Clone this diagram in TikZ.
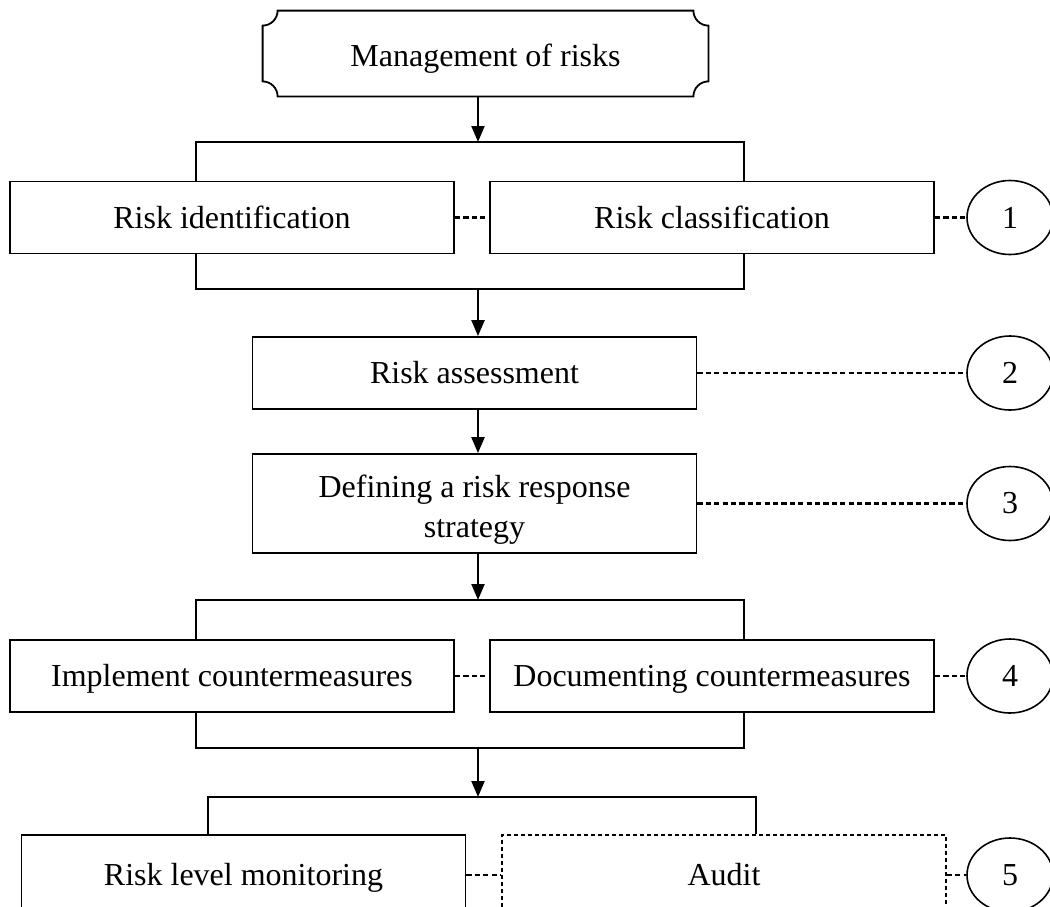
\documentclass[tikz,border=0pt]{standalone}
\usepackage{fontspec}
\setmainfont{Liberation Serif}
\usetikzlibrary{arrows.meta,positioning,calc,shapes.geometric}

\begin{document}
\begin{tikzpicture}[x=0.5pt,y=0.5pt,
    txt/.style={font=\fontsize{16}{20}\selectfont,align=center,inner sep=0pt},
    box/.style={txt,draw,line width=0.9pt,minimum width=222pt,minimum height=36pt,
      text height=13.5pt,text depth=3pt},
    plaque/.style={txt,minimum width=222.5pt,minimum height=42.5pt,text height=16pt,text depth=3pt},
    stage/.style={txt,draw,ellipse,line width=0.8pt,minimum width=43pt,minimum height=37pt},
    link/.style={line width=1.1pt,dash pattern=on 2.6pt off 1.6pt},
    bracket/.style={line width=1.2pt},
    arr/.style={line width=1.1pt,-{Triangle[length=8pt,width=6.5pt]}}]
    \clip (0,0) rectangle (1050,-906);

    % top of the chart
    \node[plaque] (mgmt) at (485.5,-53.5) {Management of risks};
    \draw[line width=0.9pt]
      ($(mgmt.north west)+(15,0)$) -- ($(mgmt.north east)+(-15,0)$)
      arc[start angle=180,end angle=270,radius=7.5pt] -- ($(mgmt.south east)+(0,15)$)
      arc[start angle=90,end angle=180,radius=7.5pt] -- ($(mgmt.south west)+(15,0)$)
      arc[start angle=0,end angle=90,radius=7.5pt] -- ($(mgmt.north west)+(0,-15)$)
      arc[start angle=270,end angle=360,radius=7.5pt] -- cycle;

    % steps
    \node[box] (ident)   at (232,-217.5)  {Risk identification};
    \node[box] (classif) at (712,-217.5)  {Risk classification};
    \node[box] (assess)  at (474.5,-373)  {Risk assessment};
    \node[box,minimum height=49.5pt,
      label={[txt,yshift=-3pt]center:{Defining a risk response\\strategy}}] (strategy) at (474.5,-503.5) {};
    \node[box] (implement) at (232,-676)  {Implement countermeasures};
    \node[box] (document)  at (712,-676)  {Documenting countermeasures};
    \node[box,minimum height=40pt] (monitor) at (243.5,-875) {Risk level monitoring};
    \node[box,minimum height=40pt,dash pattern=on 2pt off 1.5pt,line width=0.7pt] (audit) at (724,-875) {Audit};

    % stage numbers
    \node[stage] (n1) at (1010,-217.5) {1};
    \node[stage] (n2) at (1010,-373)   {2};
    \node[stage] (n3) at (1010,-503.5) {3};
    \node[stage] (n4) at (1010,-676)   {4};
    \node[stage] (n5) at (1010,-875)   {5};

    % brackets
    \coordinate (t1l) at (196,-142);  \coordinate (t1r) at (744,-142);  \coordinate (t1m) at (478,-142);
    \coordinate (b1l) at (196,-289);  \coordinate (b1r) at (744,-289);  \coordinate (b1m) at (478,-289);
    \coordinate (t4l) at (196,-600);  \coordinate (t4r) at (744,-600);  \coordinate (t4m) at (478,-600);
    \coordinate (b4l) at (196,-748);  \coordinate (b4r) at (744,-748);  \coordinate (b4m) at (478,-748);
    \coordinate (t5l) at (208,-797);  \coordinate (t5r) at (756,-797);  \coordinate (t5m) at (478,-797);

    \draw[bracket] (ident.north -| t1l) -- (t1l) -- (t1r) -- (t1r |- classif.north);
    \draw[bracket] (ident.south -| b1l) -- (b1l) -- (b1r) -- (b1r |- classif.south);
    \draw[bracket] (implement.north -| t4l) -- (t4l) -- (t4r) -- (t4r |- document.north);
    \draw[bracket] (implement.south -| b4l) -- (b4l) -- (b4r) -- (b4r |- document.south);
    \draw[bracket] (monitor.north -| t5l) -- (t5l) -- (t5r) -- (t5r |- audit.north);

    % flow
    \draw[arr] (mgmt.south -| t1m) -- (t1m);
    \draw[arr] (b1m) -- (b1m |- assess.north);
    \draw[arr] (assess.south -| b1m) -- (b1m |- strategy.north);
    \draw[arr] (strategy.south -| t4m) -- (t4m);
    \draw[arr] (b4m) -- (t5m);

    % dashed links
    \foreach \a/\b in {ident/classif,classif/n1,assess/n2,strategy/n3,
                       implement/document,document/n4,monitor/audit,audit/n5}
      \draw[link] (\a.east) -- (\b.west);
  \end{tikzpicture}
\end{document}
